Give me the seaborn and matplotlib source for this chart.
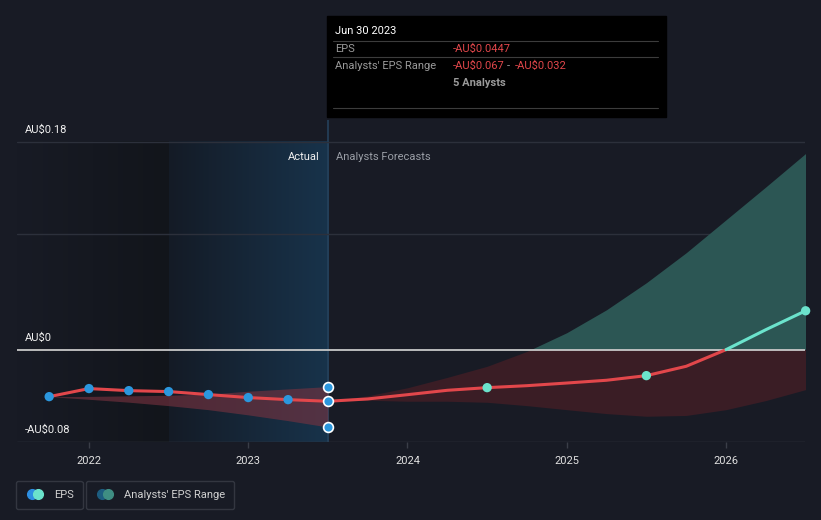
import matplotlib
matplotlib.use("Agg")
import matplotlib.pyplot as plt
import seaborn as sns
import numpy as np
import pandas as pd
from matplotlib.patches import Rectangle
from matplotlib.lines import Line2D
from matplotlib.legend_handler import HandlerTuple
from matplotlib.colors import LinearSegmentedColormap

# ---- data ----
hist_dates = [2021.75, 2022.0, 2022.25, 2022.5, 2022.75, 2023.0, 2023.25, 2023.5]
hist_eps = [-0.0407, -0.0337, -0.0355, -0.0363, -0.0389, -0.0415, -0.0433, -0.0447]
hist_low = [-0.0407, -0.0430, -0.0455, -0.0485, -0.0520, -0.0565, -0.0615, -0.0670]
hist_high = [-0.0407, -0.0405, -0.0400, -0.0395, -0.0385, -0.0360, -0.0340, -0.0320]

fc_dates = [2023.5, 2023.75, 2024.0, 2024.25, 2024.5, 2024.75, 2025.0,
            2025.25, 2025.5, 2025.75, 2026.0, 2026.25, 2026.5]
fc_eps = [-0.0447, -0.0427, -0.0390, -0.0352, -0.0329, -0.0312, -0.0289,
          -0.0265, -0.0225, -0.0144, 0.0, 0.0173, 0.0337]
fc_low = [-0.0447, -0.0438, -0.0447, -0.0447, -0.0456, -0.0485, -0.0520,
          -0.0554, -0.0577, -0.0570, -0.0520, -0.0441, -0.0346]
fc_high = [-0.0447, -0.0400, -0.0330, -0.0240, -0.0144, -0.0015, 0.0147,
           0.0346, 0.0580, 0.0840, 0.1125, 0.1410, 0.1700]

fc_mark_dates = [2024.5, 2025.5, 2026.5]
fc_mark_eps = [-0.0329, -0.0225, 0.0337]

range_marks = [-0.0320, -0.0447, -0.0670]

year_ticks = [2022, 2023, 2024, 2025, 2026]
y_grid = [0.18, 0.10, 0.0, -0.08]
y_labels = ["AU$0.18", "AU$0", "-AU$0.08"]
y_label_vals = [0.18, 0.0, -0.08]

BG = "#181b25"
RED = "#e2474b"
CYAN = "#6be3cc"
BLUE = "#2b97de"
GRID = "#2c303b"

sns.set_theme(style="dark")
plt.rcParams["font.family"] = ["Roboto", "DejaVu Sans"]

fig = plt.figure(figsize=(8.21, 5.20), dpi=100, facecolor=BG)
ax = fig.add_axes([17 / 821, 78 / 520, 788 / 821, 322 / 520])
ax.set_facecolor(BG)
x0, x1 = 2021.548, 2026.496
ax.set_xlim(x0, x1)
ax.set_ylim(-0.08, 0.199)

# shaded past regions
grad = np.linspace(0, 1, 256).reshape(1, -1)
dark_cm = LinearSegmentedColormap.from_list("d", ["#181b25", "#12151b"])
blue_cm = LinearSegmentedColormap.from_list("b", ["#141b26", "#18334b"])
ax.imshow(grad, extent=[x0, 2022.5, -0.08, 0.18], aspect="auto", cmap=dark_cm, zorder=0)
ax.imshow(grad, extent=[2022.5, 2023.5, -0.08, 0.18], aspect="auto", cmap=blue_cm, zorder=0)
ax.axvline(2023.5, color="#25415c", lw=1.2, zorder=1)

# grid
for g in y_grid:
    if g == 0.0:
        ax.axhline(g, color="#c8c8c8", lw=1.3, zorder=3)
    else:
        ax.axhline(g, color=GRID if g != -0.08 else "#3a3e48", lw=1, zorder=1)

# historical range band
ax.fill_between(hist_dates, hist_low, hist_high, color="#7a3340", alpha=0.6, lw=0, zorder=2)

# forecast band, split by sign with clip rectangles
pos = ax.fill_between(fc_dates, fc_low, fc_high, color="#2c5654", lw=0, zorder=2)
neg = ax.fill_between(fc_dates, fc_low, fc_high, color="#3a1d25", lw=0, zorder=2)
pos.set_clip_path(Rectangle((x0, 0), x1 - x0, 1, transform=ax.transData))
neg.set_clip_path(Rectangle((x0, -1), x1 - x0, 1, transform=ax.transData))

# lines
hist_df = pd.DataFrame({"date": hist_dates, "eps": hist_eps})
fc_df = pd.DataFrame({"date": fc_dates, "eps": fc_eps})
neg_df = fc_df[fc_df["date"] <= 2026.0]
pos_df = fc_df[fc_df["eps"] >= 0]
sns.lineplot(data=hist_df, x="date", y="eps", color=RED, lw=2.2, ax=ax, zorder=4)
sns.lineplot(data=neg_df, x="date", y="eps", color=RED, lw=2.2, ax=ax, zorder=4)
sns.lineplot(data=pos_df, x="date", y="eps", color=CYAN, lw=2.2, ax=ax, zorder=4)

# markers
sns.scatterplot(x=hist_dates[:-1], y=hist_eps[:-1], color=BLUE, s=45,
                edgecolor="none", ax=ax, zorder=5)
sns.scatterplot(x=[2023.5] * 3, y=range_marks, color=BLUE, s=50,
                edgecolor="white", linewidth=1.2, ax=ax, zorder=6)
sns.scatterplot(x=fc_mark_dates, y=fc_mark_eps, color=CYAN, s=45,
                edgecolor="none", ax=ax, zorder=5, clip_on=False)

# axes styling
for s in ax.spines.values():
    s.set_visible(False)
ax.grid(False)
ax.set_xlabel("")
ax.set_ylabel("")
ax.set_yticks([])
ax.set_xticks(year_ticks)
ax.set_xticklabels([str(y) for y in year_ticks])
ax.tick_params(axis="x", colors="#3a3e48", labelcolor="#e0e0e0", labelsize=8,
               length=4, width=1, pad=6, bottom=True)

for lab, v in zip(y_labels, y_label_vals):
    ax.text(x0 + 0.05, v + 0.006, lab, color="#f0f0f0", fontsize=8,
            ha="left", va="bottom", zorder=6)

ax.text(2023.45, 0.167, "Actual", color="#f0f0f0", fontsize=8, ha="right", va="center")
ax.text(2023.55, 0.167, "Analysts Forecasts", color="#9a9ea6", fontsize=8,
        ha="left", va="center")

# tooltip box
H = 520.0
W = 821.0
fig.patches.append(Rectangle((327 / W, 1 - 117 / H), 339 / W, 101 / H,
                             transform=fig.transFigure, color="black", zorder=10))
for yy in [41, 57, 108]:
    fig.add_artist(Line2D([333 / W, 658 / W], [1 - yy / H, 1 - yy / H],
                          color="#3c3c3c", lw=0.8, zorder=11))
fig.text(335 / W, 1 - 31 / H, "Jun 30 2023", color="white", fontsize=8, va="center", zorder=12)
fig.text(335 / W, 1 - 49 / H, "EPS", color="#9a9a9a", fontsize=8, va="center", zorder=12)
fig.text(453 / W, 1 - 49 / H, "-AU$0.0447", color=RED, fontsize=8, va="center", zorder=12)
fig.text(335 / W, 1 - 66 / H, "Analysts' EPS Range", color="#9a9a9a", fontsize=8,
         va="center", zorder=12)
fig.text(453 / W, 1 - 66 / H, "-AU$0.067", color=RED, fontsize=8, va="center", zorder=12)
fig.text(507 / W, 1 - 66 / H, "-", color="#9a9a9a", fontsize=8, va="center", zorder=12)
fig.text(515 / W, 1 - 66 / H, "-AU$0.032", color=RED, fontsize=8, va="center", zorder=12)
fig.text(453 / W, 1 - 83 / H, "5 Analysts", color="#9a9a9a", fontsize=8, va="center",
         fontweight="bold", zorder=12)

# legend
h_eps = (Line2D([], [], marker="o", ls="", color="#2d8fe2", ms=7),
         Line2D([], [], marker="o", ls="", color=CYAN, ms=7))
h_rng = (Line2D([], [], marker="o", ls="", color="#1d5d80", ms=7),
         Line2D([], [], marker="o", ls="", color="#3f8e83", ms=7))
common = dict(loc="lower left", frameon=True, fontsize=8, labelcolor="#d0d0d0",
              facecolor=BG, edgecolor="#3a3e48", handlelength=1.8, handletextpad=0.8,
              borderpad=0.8, borderaxespad=0,
              handler_map={tuple: HandlerTuple(ndivide=None, pad=-0.7)})
leg1 = fig.legend([h_eps], ["EPS"], bbox_to_anchor=(16 / W, 11 / H), **common)
leg1.get_frame().set_boxstyle("round,pad=0,rounding_size=0.2")
leg2 = fig.legend([h_rng], ["Analysts' EPS Range"], bbox_to_anchor=(86 / W, 11 / H), **common)
leg2.get_frame().set_boxstyle("round,pad=0,rounding_size=0.2")

fig.savefig("out.png", dpi=100, facecolor=BG)
